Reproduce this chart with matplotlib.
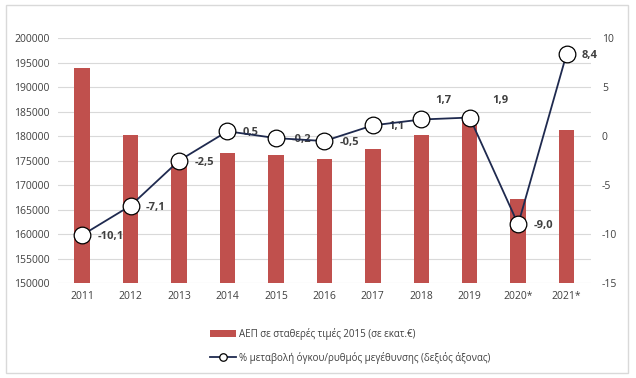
import matplotlib.pyplot as plt
import numpy as np
from matplotlib.patches import Rectangle

years = ['2011', '2012', '2013', '2014', '2015', '2016', '2017', '2018', '2019', '2020*', '2021*']
gdp = [194000, 180300, 175600, 176600, 176250, 175400, 177350, 180300, 184000, 167100, 181300]
growth = [-10.1, -7.1, -2.5, 0.5, -0.2, -0.5, 1.1, 1.7, 1.9, -9.0, 8.4]
growth_labels = ['-10,1', '-7,1', '-2,5', '0,5', '-0,2', '-0,5', '1,1', '1,7', '1,9', '-9,0', '8,4']

plt.rcParams['font.family'] = ['Open Sans', 'DejaVu Sans']
plt.rcParams['axes.unicode_minus'] = False

fig = plt.figure(figsize=(6.36, 3.78), dpi=100)
ax = fig.add_axes([0.091, 0.251, 0.838, 0.648])
x = np.arange(len(years))

ax.bar(x, gdp, width=0.32, color='#C0504D', zorder=2,
       label='ΑΕΠ σε σταθερές τιμές 2015 (σε εκατ.€)')
ax.set_ylim(150000, 200000)
ax.set_yticks(np.arange(150000, 200001, 5000))
ax.set_xlim(-0.5, len(years) - 0.5)
ax.set_xticks(x)
ax.set_xticklabels(years)
ax.grid(axis='y', color='#D9D9D9', linewidth=0.8, zorder=0)
for s in ax.spines.values():
    s.set_visible(False)
ax.tick_params(length=0, labelsize=7.5, colors='#404040', pad=6)

ax2 = ax.twinx()
ax2.plot(x, growth, color='#1F2A4F', linewidth=1.3, marker='o', markersize=12,
         markerfacecolor='white', markeredgecolor='black', markeredgewidth=0.9, zorder=3,
         label='% μεταβολή όγκου/ρυθμός μεγέθυνσης (δεξιός άξονας)')
ax2.set_ylim(-15, 10)
ax2.set_yticks(np.arange(-15, 11, 5))
for s in ax2.spines.values():
    s.set_visible(False)
ax2.tick_params(length=0, labelsize=7.5, colors='#404040', pad=8)

for i, (v, t) in enumerate(zip(growth, growth_labels)):
    if i == 7:
        off, ha = (16, 14), 'center'
    elif i == 8:
        off, ha = (22, 12), 'center'
    else:
        off, ha = (11, -1), 'left'
    ax2.annotate(t, (i, v), xytext=off, textcoords='offset points',
                 ha=ha, va='center', fontsize=8, fontweight='bold', color='#404040', zorder=1)

h1, l1 = ax.get_legend_handles_labels()
h2, l2 = ax2.get_legend_handles_labels()
fig.legend(h1 + h2, l1 + l2, loc='upper left', bbox_to_anchor=(0.317, 0.155),
           frameon=False, fontsize=7, labelcolor='#404040', handlelength=2.6,
           labelspacing=1.2, handletextpad=0.35, markerscale=0.45)

fig.patches.append(Rectangle((0.009, 0.013), 0.979, 0.974, transform=fig.transFigure,
                             fill=False, edgecolor='#D9D9D9', linewidth=1))

fig.savefig('out.png', dpi=100)
